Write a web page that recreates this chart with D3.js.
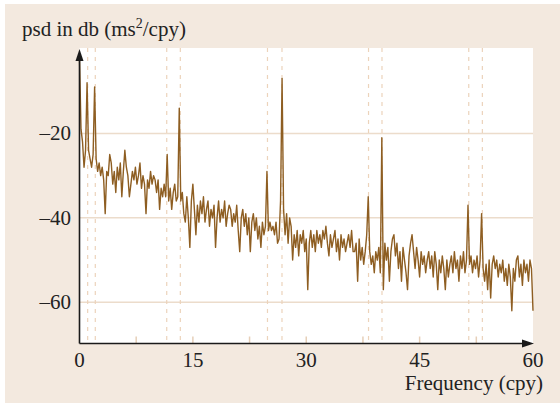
<!DOCTYPE html>
<html>
<head>
<meta charset="utf-8">
<script src="https://cdn.jsdelivr.net/npm/d3@7"></script>
<style>
  html, body { margin: 0; padding: 0; background: #ffffff; }
  svg { display: block; }
</style>
</head>
<body>
<div id="chart"></div>
<script>
// spectrum sampled every 0.2 cpy, from 0 to 60 cpy (values in dB)
const freqStep = 0.2;
const psdDb = [
  -2, -19, -22, -28, -24, -8, -24, -26, -28, -25,
  -9, -26, -29, -27, -30, -28, -31, -39, -29, -30,
  -25, -27, -32, -29, -34, -28, -31, -27, -35, -29,
  -24, -28, -30, -35, -32, -29, -31, -28, -32, -30,
  -27, -33, -30, -32, -39, -31, -33, -29, -32, -30,
  -31, -34, -31, -38, -33, -35, -32, -35, -25, -36,
  -33, -38, -34, -32, -36, -35, -14, -36, -34, -39,
  -41, -35, -40, -47, -36, -32, -38, -44, -37, -41,
  -36, -39, -35, -41, -38, -36, -42, -38, -40, -37,
  -47, -40, -36, -41, -38, -40, -36, -42, -39, -37,
  -38, -42, -39, -41, -37, -43, -48, -40, -38, -42,
  -39, -44, -40, -48, -41, -39, -43, -40, -45, -42,
  -47, -41, -44, -42, -29, -43, -41, -43, -42, -44,
  -41, -46, -45, -36, -7, -38, -44, -39, -46, -40,
  -42, -50, -44, -47, -43, -49, -44, -46, -43, -48,
  -45, -57, -46, -43, -47, -44, -48, -43, -46, -44,
  -47, -43, -45, -42, -46, -49, -44, -47, -45, -43,
  -48, -45, -50, -44, -47, -45, -48, -46, -44, -47,
  -43, -48, -48, -46, -55, -45, -50, -47, -51, -48,
  -44, -35, -48, -51, -49, -53, -48, -50, -47, -53,
  -21, -57, -46, -50, -47, -55, -48, -45, -44, -49,
  -46, -52, -48, -55, -47, -50, -53, -57, -49, -46,
  -44, -48, -52, -47, -50, -54, -48, -51, -49, -53,
  -50, -48, -52, -49, -54, -48, -51, -57, -50, -53,
  -49, -52, -57, -50, -54, -51, -49, -53, -48, -52,
  -50, -55, -49, -52, -48, -53, -50, -37, -51, -49,
  -53, -50, -52, -49, -54, -50, -39, -52, -55, -51,
  -57, -50, -59, -51, -49, -52, -50, -54, -51, -53,
  -50, -55, -52, -56, -51, -54, -62, -52, -55, -50,
  -49, -54, -51, -56, -50, -53, -51, -55, -50, -52,
  -62
];

// dashed marker frequencies (cpy)
const markerFreqs = [1.08, 2.09, 11.54, 13.34, 24.87, 26.79, 38.24, 40.02, 51.5, 53.3];

const xTickLabels = [0, 15, 30, 45, 60];
const xTickMarks = [7.5, 15, 22.5, 30, 37.5, 45, 52.5];
const yTickLabels = [-20, -40, -60];

const width = 560;
const height = 404;
const plotLeft = 79.5, plotRight = 533, plotTop = 48, plotBottom = 343.5;

const svg = d3.select("#chart")
  .append("svg")
  .attr("width", width)
  .attr("height", height)
  .style("font-family", "'Liberation Serif', 'Times New Roman', serif");

// panel background
svg.append("rect")
  .attr("x", 5).attr("y", 4)
  .attr("width", width - 5).attr("height", height - 5)
  .attr("fill", "#f3e9df");

svg.append("rect")
  .attr("x", plotLeft).attr("y", plotTop)
  .attr("width", plotRight - plotLeft).attr("height", plotBottom - plotTop)
  .attr("fill", "#ffffff");

const x = d3.scaleLinear().domain([0, 60]).range([plotLeft, plotRight]);
const y = d3.scaleLinear().domain([-70, 0]).range([344.5, 49]);

// horizontal grid lines
svg.append("g")
  .selectAll("line")
  .data(yTickLabels)
  .join("line")
  .attr("x1", plotLeft).attr("x2", plotRight)
  .attr("y1", d => y(d)).attr("y2", d => y(d))
  .attr("stroke", "#ecdccb")
  .attr("stroke-width", 1.5);

// dashed markers
svg.append("g")
  .selectAll("line")
  .data(markerFreqs)
  .join("line")
  .attr("x1", d => x(d)).attr("x2", d => x(d))
  .attr("y1", plotTop).attr("y2", plotBottom)
  .attr("stroke", "#ecd3bb")
  .attr("stroke-width", 1.2)
  .attr("stroke-dasharray", "4,5");

// x tick marks
svg.append("g")
  .selectAll("line")
  .data(xTickMarks)
  .join("line")
  .attr("x1", d => x(d)).attr("x2", d => x(d))
  .attr("y1", plotBottom).attr("y2", plotBottom - 7)
  .attr("stroke", "#e6cfb8")
  .attr("stroke-width", 1.5);

// spectrum
const points = psdDb.map((v, i) => ({ f: i * freqStep, v: v }));
const line = d3.line().x(d => x(d.f)).y(d => y(d.v));

svg.append("path")
  .datum(points)
  .attr("d", line)
  .attr("fill", "none")
  .attr("stroke", "#8e5e22")
  .attr("stroke-width", 1.4)
  .attr("stroke-linejoin", "round");

// axes
svg.append("line")
  .attr("x1", plotLeft).attr("x2", plotLeft)
  .attr("y1", plotBottom).attr("y2", 58)
  .attr("stroke", "#1a1a1a").attr("stroke-width", 1.6);
svg.append("path")
  .attr("d", `M${plotLeft},49 L${plotLeft - 4},61 L${plotLeft + 4},61 Z`)
  .attr("fill", "#1a1a1a");

svg.append("line")
  .attr("x1", plotLeft).attr("x2", plotRight - 8)
  .attr("y1", plotBottom).attr("y2", plotBottom)
  .attr("stroke", "#1a1a1a").attr("stroke-width", 1.6);
svg.append("path")
  .attr("d", `M${plotRight + 1},${plotBottom} L${plotRight - 11},${plotBottom - 4} L${plotRight - 11},${plotBottom + 4} Z`)
  .attr("fill", "#1a1a1a");

// tick labels
svg.append("g")
  .selectAll("text")
  .data(yTickLabels)
  .join("text")
  .attr("x", 71)
  .attr("y", d => y(d) + 7)
  .attr("text-anchor", "end")
  .style("font-size", "21px")
  .style("fill", "#222")
  .text(d => "\u2013" + Math.abs(d));

svg.append("g")
  .selectAll("text")
  .data(xTickLabels)
  .join("text")
  .attr("x", d => x(d))
  .attr("y", 367)
  .attr("text-anchor", "middle")
  .style("font-size", "21px")
  .style("fill", "#222")
  .text(d => d);

svg.append("text")
  .attr("x", 543).attr("y", 390)
  .attr("text-anchor", "end")
  .style("font-size", "21px")
  .style("fill", "#222")
  .text("Frequency (cpy)");

const title = svg.append("text")
  .attr("x", 22).attr("y", 36)
  .style("font-size", "21px")
  .style("fill", "#222");
title.append("tspan").text("psd in db (ms");
title.append("tspan").attr("dy", -8).style("font-size", "14px").text("2");
title.append("tspan").attr("dy", 8).text("/cpy)");
</script>
</body>
</html>
